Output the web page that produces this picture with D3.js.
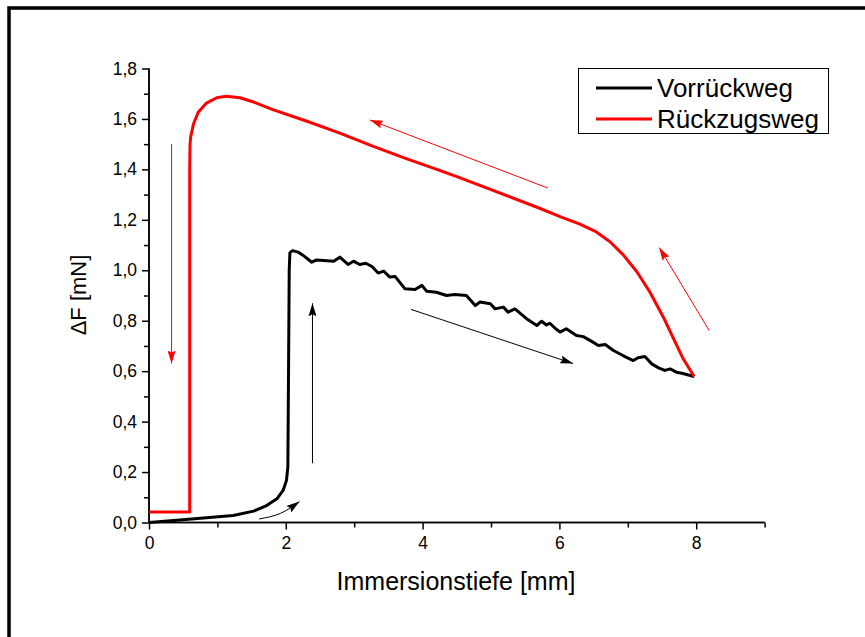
<!DOCTYPE html>
<html>
<head>
<meta charset="utf-8">
<script src="https://cdn.jsdelivr.net/npm/d3@7"></script>
<style>
  body { margin: 0; background: #fff; }
  svg { display: block; font-family: Arial, "Liberation Sans", sans-serif; }
</style>
</head>
<body>
<svg id="chart" width="865" height="637"></svg>
<script>
// Vorrückweg (approach)
const vorrueckweg = [
  [0, 0], [0.36, 0.008], [0.84, 0.019], [1.23, 0.028], [1.53, 0.045], [1.72, 0.067],
  [1.87, 0.094], [1.96, 0.127], [2.01, 0.167], [2.03, 0.22], [2.04, 0.6], [2.05, 1.0],
  [2.06, 1.07], [2.1, 1.078], [2.18, 1.072], [2.25, 1.06], [2.38, 1.032], [2.45, 1.041],
  [2.7, 1.036], [2.79, 1.052], [2.91, 1.023], [2.99, 1.036], [3.08, 1.023], [3.17, 1.028],
  [3.26, 1.015], [3.35, 0.989], [3.43, 0.997], [3.52, 0.973], [3.6, 0.975], [3.74, 0.927],
  [3.89, 0.924], [3.99, 0.94], [4.06, 0.917], [4.2, 0.913], [4.35, 0.9], [4.47, 0.904],
  [4.64, 0.9], [4.77, 0.86], [4.84, 0.874], [4.99, 0.867], [5.06, 0.847], [5.18, 0.854],
  [5.25, 0.834], [5.35, 0.847], [5.52, 0.808], [5.67, 0.781], [5.74, 0.798], [5.81, 0.783],
  [5.86, 0.79], [5.96, 0.765], [6.01, 0.755], [6.1, 0.768], [6.25, 0.741], [6.35, 0.737],
  [6.49, 0.715], [6.57, 0.702], [6.67, 0.706], [6.79, 0.682], [6.93, 0.662], [7.08, 0.642],
  [7.15, 0.653], [7.25, 0.658], [7.35, 0.629], [7.45, 0.613], [7.54, 0.603], [7.62, 0.609],
  [7.71, 0.596], [7.79, 0.592], [7.86, 0.587], [7.97, 0.579]
];

// Rückzugsweg (retraction)
const rueckzugsweg = [
  [0, 0.042], [0.595, 0.042], [0.595, 1.4], [0.6, 1.5], [0.61, 1.53], [0.65, 1.58],
  [0.72, 1.627], [0.84, 1.663], [0.99, 1.684], [1.13, 1.69], [1.33, 1.684], [1.53, 1.667],
  [1.82, 1.636], [2.31, 1.591], [2.79, 1.544], [3.28, 1.491], [3.77, 1.442], [4.25, 1.396],
  [4.55, 1.366], [5.72, 1.245], [6.01, 1.213], [6.3, 1.183], [6.54, 1.152], [6.74, 1.113],
  [6.93, 1.062], [7.13, 0.995], [7.32, 0.915], [7.52, 0.814], [7.67, 0.728], [7.81, 0.649],
  [7.97, 0.579]
];

// direction arrows (data coords)
const redArrows = [
  [[0.33, 1.5], [0.33, 0.63]],
  [[5.83, 1.326], [3.23, 1.596]],
  [[8.19, 0.761], [7.46, 1.09]]
];
const blackArrows = [
  [[2.39, 0.235], [2.39, 0.869]],
  [[3.83, 0.845], [6.2, 0.63]]
];
const curvedArrow = [[1.61, 0.014], [1.92, 0.036], [2.2, 0.083]];

const xMajor = [0, 2, 4, 6, 8];
const xMinor = [1, 3, 5, 7, 9];
const yMajor = [0, 0.2, 0.4, 0.6, 0.8, 1.0, 1.2, 1.4, 1.6, 1.8];
const yMinor = [0.1, 0.3, 0.5, 0.7, 0.9, 1.1, 1.3, 1.5, 1.7];

const series = [
  { name: 'Vorrückweg', color: '#000000', data: vorrueckweg },
  { name: 'Rückzugsweg', color: '#ff0000', data: rueckzugsweg }
];

const svg = d3.select('#chart');

// outer frame (runs off the right and bottom edges)
svg.append('rect')
  .attr('x', 9).attr('y', 8)
  .attr('width', 900).attr('height', 700)
  .attr('fill', 'none').attr('stroke', '#000').attr('stroke-width', 3.5);

const x = d3.scaleLinear().domain([0, 9]).range([149, 764.6]);
const y = d3.scaleLinear().domain([0, 1.8]).range([522.5, 68.5]);

const comma = d => d3.format('.1f')(d).replace('.', ',');

// axes
const xAxisG = svg.append('g').attr('transform', `translate(0,${y(0)})`);
xAxisG.call(d3.axisBottom(x).tickValues(xMinor).tickSize(5).tickFormat(''));
xAxisG.call(g => g.append('g').call(d3.axisBottom(x).tickValues(xMajor).tickSize(7).tickPadding(7).tickFormat(d3.format('d'))));

const yAxisG = svg.append('g').attr('transform', `translate(${x(0)},0)`);
yAxisG.call(d3.axisLeft(y).tickValues(yMinor).tickSize(5).tickFormat(''));
yAxisG.call(g => g.append('g').call(d3.axisLeft(y).tickValues(yMajor).tickSize(7).tickPadding(5).tickFormat(comma)));

svg.selectAll('.tick line').attr('stroke', '#000').attr('stroke-width', 1.5);
svg.selectAll('.tick text')
  .attr('fill', '#000')
  .style('font-size', '17.5px');
// plain axis lines without end caps
svg.selectAll('.domain').attr('stroke', '#000').attr('stroke-width', 1.5);
xAxisG.selectAll('.domain').attr('d', `M${x(0)},0H${x(9)}`);
yAxisG.selectAll('.domain').attr('d', `M0,${y(0)}V${y(1.8)}`);

// axis titles
svg.append('text')
  .attr('x', 456).attr('y', 590)
  .attr('text-anchor', 'middle')
  .style('font-size', '25px')
  .text('Immersionstiefe [mm]');

svg.append('text')
  .attr('transform', `translate(86,${295}) rotate(-90)`)
  .attr('text-anchor', 'middle')
  .style('font-size', '22px')
  .text('ΔF [mN]');

// curves
const line = d3.line().x(d => x(d[0])).y(d => y(d[1]));
svg.selectAll('path.series')
  .data(series)
  .join('path')
  .attr('class', 'series')
  .attr('d', d => line(d.data))
  .attr('fill', 'none')
  .attr('stroke', d => d.color)
  .attr('stroke-width', 3)
  .attr('stroke-linejoin', 'round');

// arrow heads
const defs = svg.append('defs');
[['head-red', '#ff0000'], ['head-black', '#000000']].forEach(([id, c]) => {
  defs.append('marker')
    .attr('id', id)
    .attr('viewBox', '0 0 13 8')
    .attr('refX', 13).attr('refY', 4)
    .attr('markerWidth', 13).attr('markerHeight', 8)
    .attr('markerUnits', 'userSpaceOnUse')
    .attr('orient', 'auto')
    .append('path')
    .attr('d', 'M0,0L13,4L0,8L2,4Z')
    .attr('fill', c);
});

svg.selectAll('line.red-arrow')
  .data(redArrows)
  .join('line')
  .attr('x1', d => x(d[0][0])).attr('y1', d => y(d[0][1]))
  .attr('x2', d => x(d[1][0])).attr('y2', d => y(d[1][1]))
  .attr('stroke', '#ff0000').attr('stroke-width', 1)
  .attr('marker-end', 'url(#head-red)');

svg.selectAll('line.black-arrow')
  .data(blackArrows)
  .join('line')
  .attr('x1', d => x(d[0][0])).attr('y1', d => y(d[0][1]))
  .attr('x2', d => x(d[1][0])).attr('y2', d => y(d[1][1]))
  .attr('stroke', '#000').attr('stroke-width', 1)
  .attr('marker-end', 'url(#head-black)');

svg.append('path')
  .attr('d', d3.line().x(d => x(d[0])).y(d => y(d[1])).curve(d3.curveNatural)(curvedArrow))
  .attr('fill', 'none')
  .attr('stroke', '#000').attr('stroke-width', 1)
  .attr('marker-end', 'url(#head-black)');

// legend
const legend = svg.append('g');
legend.append('rect')
  .attr('x', 578.5).attr('y', 68.5)
  .attr('width', 250).attr('height', 65)
  .attr('fill', '#fff').attr('stroke', '#000').attr('stroke-width', 1);

legend.selectAll('g.item')
  .data(series)
  .join('g')
  .attr('class', 'item')
  .attr('transform', (d, i) => `translate(0,${88 + i * 31})`)
  .each(function (d) {
    const g = d3.select(this);
    g.append('line')
      .attr('x1', 596).attr('x2', 652)
      .attr('stroke', d.color).attr('stroke-width', 3);
    g.append('text')
      .attr('x', 657).attr('y', 8.5)
      .style('font-size', '26px')
      .text(d.name);
  });
</script>
</body>
</html>
